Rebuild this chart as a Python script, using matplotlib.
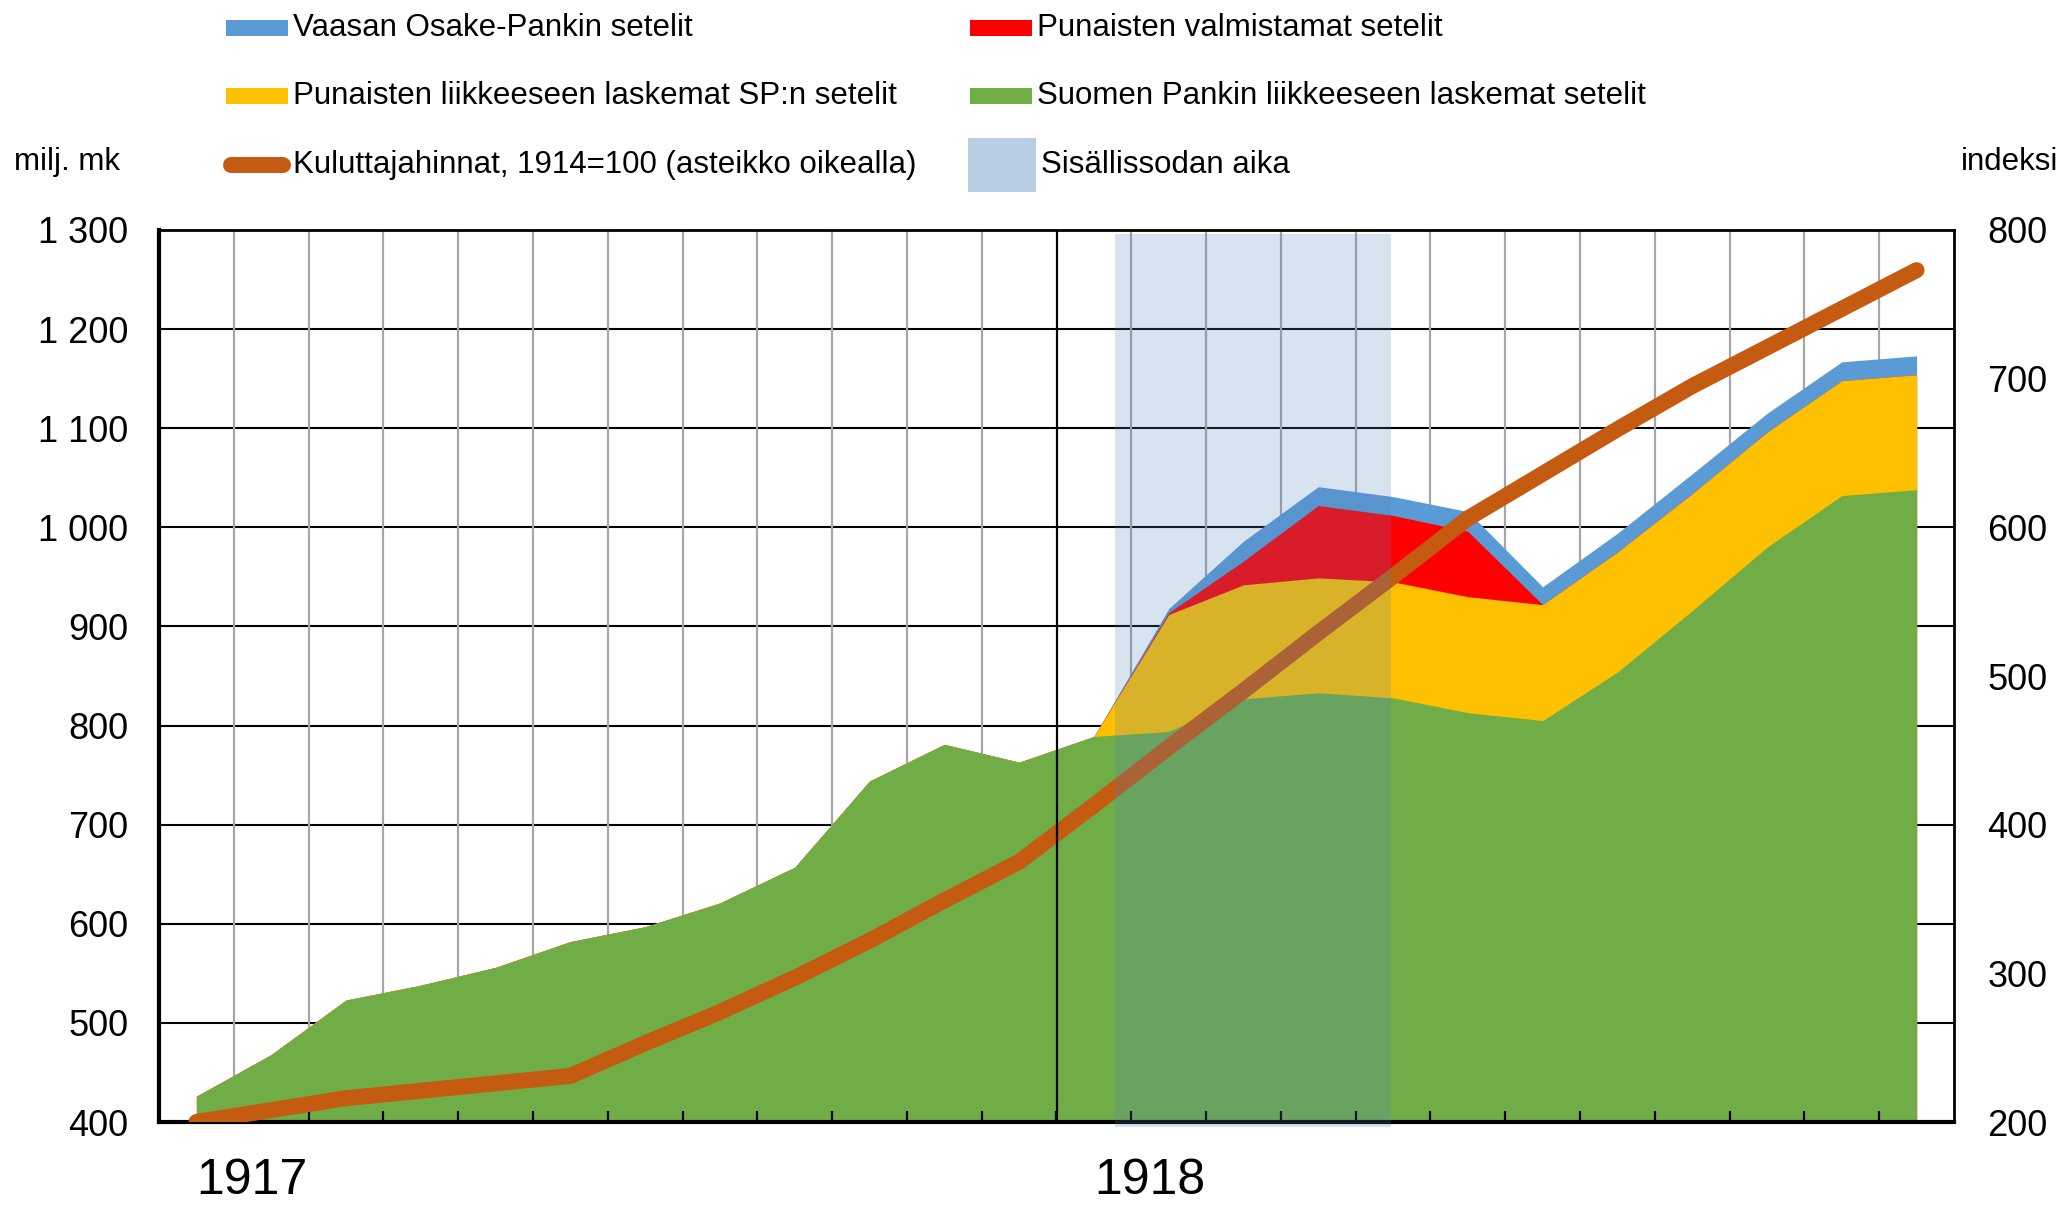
import numpy as np
import matplotlib.pyplot as plt
from matplotlib.patches import Rectangle
from matplotlib.lines import Line2D
from matplotlib.transforms import Affine2D
from matplotlib.ticker import FuncFormatter

plt.rcParams['font.family'] = ['Liberation Sans', 'DejaVu Sans']

# Kuukaudet tammikuu 1917 - joulukuu 1918 (0..23)
kuukaudet = np.arange(24)

# Setelit, milj. mk (vasen asteikko)
suomen_pankki = [426, 468, 523, 538, 556, 582, 597, 621, 657, 744, 781, 763,
                 789, 794, 827, 833, 828, 813, 805, 854, 916, 980, 1032, 1038]
punaisten_sp = [0, 0, 0, 0, 0, 0, 0, 0, 0, 0, 0, 0,
                0, 118, 115, 116, 117, 117, 117, 121, 118, 116, 116, 116]
punaisten_omat = [0, 0, 0, 0, 0, 0, 0, 0, 0, 0, 0, 0,
                  0, 2, 24, 73, 67, 66, 0, 0, 0, 0, 0, 0]
vaasan = [0, 0, 0, 0, 0, 0, 0, 0, 0, 0, 0, 0,
          0, 4, 20, 19, 19, 20, 18, 19, 20, 19, 19, 19]

# Kuluttajahinnat, 1914=100 (oikea asteikko)
hinnat = [200, 208, 216, 221, 226, 231, 253, 274, 297, 322, 349, 375,
          413, 452, 490, 529, 567, 606, 636, 666, 695, 721, 747, 773]

vuodet = ['1917', '1918']
vuoden_alku = [0, 12]
sisallissota = [12.28, 15.97]

sininen = '#5B9BD5'
punainen = '#FF0000'
keltainen = '#FFC000'
vihrea = '#70AD47'
oranssi = '#C55A11'

W, H = 2063, 1207
fig = plt.figure(figsize=(W / 100, H / 100), dpi=100)
ax = fig.add_axes([159 / W, 1 - 1122 / H, (1954 - 159) / W, (1122 - 230) / H])
ax2 = ax.twinx()

# pinotut alueet: piirretään korkein ensin
k1 = np.array(suomen_pankki, dtype=float)
k2 = k1 + np.array(punaisten_sp)
k3 = k2 + np.array(punaisten_omat)
k4 = k3 + np.array(vaasan)
for yla, vari in [(k4, sininen), (k3, punainen), (k2, keltainen), (k1, vihrea)]:
    ax.fill_between(kuukaudet, 400, yla, color=vari, lw=0, zorder=2)

# ruudukko
for v in range(500, 1300, 100):
    ax.axhline(v, color='black', lw=1.5, zorder=1)
for b in np.arange(0.5, 23, 1):
    if b != vuoden_alku[1] - 0.5:
        ax.axvline(b, color='#A6A6A6', lw=1.6, zorder=1)

ax.set_xlim(-0.5, 23.5)
ax.set_ylim(400, 1300)
ax.set_yticks(range(400, 1301, 100))
ax.yaxis.set_major_formatter(FuncFormatter(lambda v, p: f'{v:,.0f}'.replace(',', ' ')))
ax.set_xticks(np.arange(0.5, 23, 1))
ax.set_axisbelow(False)
ax.tick_params(axis='x', direction='in', length=8, width=1.6, labelbottom=False)
ax.tick_params(axis='y', length=0, pad=22, labelsize=26)
ax.spines['left'].set_linewidth(3)
ax.spines['bottom'].set_linewidth(3)
ax.spines['top'].set_linewidth(2)
ax.spines['right'].set_linewidth(2)

# hinnat oikealla asteikolla
ax2.plot(kuukaudet, hinnat, color=oranssi, lw=11.5, solid_capstyle='round', zorder=2)
ax2.axvline(vuoden_alku[1] - 0.5, color='black', lw=1.6, zorder=3)
ax2.axvspan(sisallissota[0], sisallissota[1], ymin=-0.006, ymax=0.995,
            color='#4F81BD', alpha=0.22, lw=0, zorder=4, clip_on=False)
ax2.set_ylim(200, 800)
ax2.set_yticks(range(200, 801, 100))
ax2.tick_params(axis='y', length=0, pad=24, labelsize=26)
for s in ax2.spines.values():
    s.set_visible(False)

for x, t in zip(vuoden_alku, vuodet):
    ax.text(x, -0.066, t, transform=ax.get_xaxis_transform(), ha='left',
            va='center', fontsize=36)

# selite, pikselikoordinaatit ylhäältä
px = Affine2D().scale(1 / W, -1 / H).translate(0, 1) + fig.transFigure
selite = [
    ('patch', sininen, 226, 28, 'Vaasan Osake-Pankin setelit'),
    ('patch', punainen, 970, 28, 'Punaisten valmistamat setelit'),
    ('patch', keltainen, 226, 96, 'Punaisten liikkeeseen laskemat SP:n setelit'),
    ('patch', vihrea, 970, 96, 'Suomen Pankin liikkeeseen laskemat setelit'),
    ('line', oranssi, 226, 165, 'Kuluttajahinnat, 1914=100 (asteikko oikealla)'),
    ('box', '#B9CDE5', 968, 165, 'Sisällissodan aika'),
]
for tyyppi, vari, x, y, teksti in selite:
    if tyyppi == 'patch':
        fig.add_artist(Rectangle((x, y - 8), 62, 16, transform=px, color=vari, lw=0))
        tx = x + 67
    elif tyyppi == 'line':
        fig.add_artist(Line2D([x + 5, x + 57], [y, y], transform=px, color=vari,
                              lw=11.5, solid_capstyle='round'))
        tx = x + 67
    else:
        fig.add_artist(Rectangle((x, y - 27), 68, 54, transform=px, color=vari, lw=0))
        tx = x + 73
    fig.text(tx, y, teksti, transform=px, va='center', ha='left', fontsize=22.5)

fig.text(14, 162, 'milj. mk', transform=px, va='center', ha='left', fontsize=22.5)
fig.text(2058, 162, 'indeksi', transform=px, va='center', ha='right', fontsize=22.5)

fig.savefig('out.png', dpi=100)
